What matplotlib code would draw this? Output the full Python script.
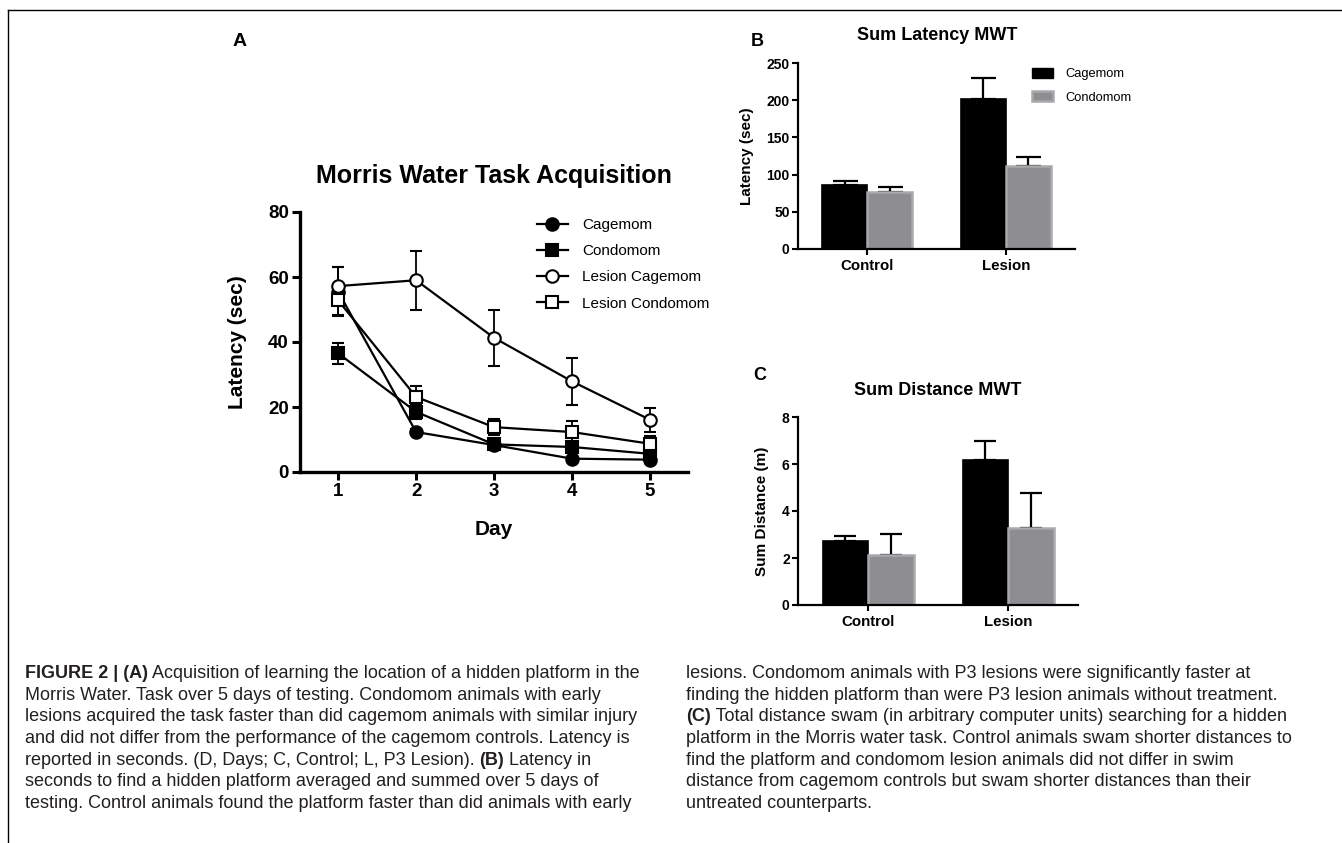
import matplotlib
matplotlib.use("Agg")
import matplotlib.pyplot as plt
from matplotlib.lines import Line2D
from matplotlib.patches import Patch

# ---------------- data ----------------
days = [1, 2, 3, 4, 5]
cagemom = [55.5, 12.3, 8.3, 4.1, 3.8]
cagemom_err = [7.5, 0.8, 0.8, 0.6, 0.6]
condomom = [36.5, 18.5, 8.5, 7.7, 5.6]
condomom_err = [3.3, 2.1, 1.2, 1.0, 0.8]
lesion_cagemom = [57.2, 59.0, 41.3, 27.9, 16.1]
lesion_cagemom_err = [5.8, 9.0, 8.6, 7.2, 3.7]
lesion_condomom = [52.8, 23.1, 13.8, 12.3, 8.7]
lesion_condomom_err = [4.4, 3.5, 2.4, 3.3, 2.4]

groups = ["Control", "Lesion"]
lat_cagemom = [85.6, 202.0]
lat_cagemom_err = [6.2, 27.8]
lat_condomom = [77.0, 111.0]
lat_condomom_err = [6.8, 12.7]

dist_cagemom = [2.74, 6.15]
dist_cagemom_err = [0.20, 0.84]
dist_condomom = [2.13, 3.27]
dist_condomom_err = [0.90, 1.49]

caption_left = [
    [("FIGURE 2 | (A)", True), (" Acquisition of learning the location of a hidden platform in the", False)],
    [("Morris Water. Task over 5 days of testing. Condomom animals with early", False)],
    [("lesions acquired the task faster than did cagemom animals with similar injury", False)],
    [("and did not differ from the performance of the cagemom controls. Latency is", False)],
    [("reported in seconds. (D, Days; C, Control; L, P3 Lesion). ", False), ("(B)", True), (" Latency in", False)],
    [("seconds to find a hidden platform averaged and summed over 5 days of", False)],
    [("testing. Control animals found the platform faster than did animals with early", False)],
]
caption_right = [
    [("lesions. Condomom animals with P3 lesions were significantly faster at", False)],
    [("finding the hidden platform than were P3 lesion animals without treatment.", False)],
    [("(C)", True), (" Total distance swam (in arbitrary computer units) searching for a hidden", False)],
    [("platform in the Morris water task. Control animals swam shorter distances to", False)],
    [("find the platform and condomom lesion animals did not differ in swim", False)],
    [("distance from cagemom controls but swam shorter distances than their", False)],
    [("untreated counterparts.", False)],
]

# ---------------- figure ----------------
W, H = 1342, 843
plt.rcParams["font.family"] = ["Liberation Sans", "DejaVu Sans"]
fig = plt.figure(figsize=(W / 100, H / 100), dpi=100)


def fx(px):
    return px / W


def fy(py):
    return 1 - py / H


def axes_px(l, t, r, b):
    return fig.add_axes([fx(l), fy(b), (r - l) / W, (b - t) / H])


# frame lines
fig.add_artist(Line2D([fx(8), 1.0], [fy(10), fy(10)], color="black", lw=1.0))
fig.add_artist(Line2D([fx(8), fx(8)], [fy(10), 0.0], color="black", lw=1.0))

# ---------------- panel A ----------------
axA = axes_px(300, 212, 688, 472)
lw = 1.6
common = dict(color="black", lw=lw, capsize=4.5, elinewidth=1.3, capthick=1.3, markersize=9,
              markeredgewidth=1.5)
axA.errorbar(days, cagemom, yerr=cagemom_err, marker="o", mfc="black", mec="black", zorder=3, **common)
axA.errorbar(days, condomom, yerr=condomom_err, marker="s", mfc="black", mec="black", zorder=3, **common)
axA.errorbar(days, lesion_cagemom, yerr=lesion_cagemom_err, marker="o", mfc="white", mec="black", zorder=4, **common)
axA.errorbar(days, lesion_condomom, yerr=lesion_condomom_err, marker="s", mfc="white", mec="black", zorder=4, **common)
axA.set_xlim(0.51, 5.49)
axA.set_ylim(0, 80)
axA.set_yticks([0, 20, 40, 60, 80])
axA.set_xticks(days)
for s in ["top", "right"]:
    axA.spines[s].set_visible(False)
for s in ["left", "bottom"]:
    axA.spines[s].set_linewidth(2.4)
axA.tick_params(width=2.2, length=6, pad=2, labelsize=13.5)
for lab in axA.get_xticklabels() + axA.get_yticklabels():
    lab.set_fontweight("bold")
axA.set_ylabel("Latency (sec)", fontsize=15, fontweight="bold")
axA.yaxis.set_label_coords(-0.16, 0.5)
axA.yaxis.label.set_va("center")
axA.set_xlabel("Day", fontsize=15, fontweight="bold")
axA.xaxis.set_label_coords(0.5, -0.223)
axA.xaxis.label.set_va("center")

handles = [
    Line2D([], [], color="black", lw=lw, marker="o", mfc="black", mec="black", ms=9, mew=1.5),
    Line2D([], [], color="black", lw=lw, marker="s", mfc="black", mec="black", ms=9, mew=1.5),
    Line2D([], [], color="black", lw=lw, marker="o", mfc="white", mec="black", ms=9, mew=1.5),
    Line2D([], [], color="black", lw=lw, marker="s", mfc="white", mec="black", ms=9, mew=1.5),
]
axA.legend(handles, ["Cagemom", "Condomom", "Lesion Cagemom", "Lesion Condomom"],
           loc="upper left", bbox_to_anchor=(fx(537), fy(218)), bbox_transform=fig.transFigure,
           frameon=False, fontsize=11, handlelength=2.0, handletextpad=0.95, labelspacing=0.8,
           borderpad=0, borderaxespad=0)

fig.text(fx(494), fy(176), "Morris Water Task Acquisition", ha="center", va="center",
         fontsize=18, fontweight="bold")
fig.text(fx(240), fy(42), "A", ha="center", va="center", fontsize=14, fontweight="bold")

# ---------------- bar panels ----------------
GRAY = "#8e8d92"
GRAY_EDGE = "#a9a9ab"
bw = 0.325
xpos = list(range(len(groups)))


def bar_panel(ax, v1, e1, v2, e2, ymax, yticks, ylabel, ylab_x, capsize):
    x1 = [x - bw / 2 for x in xpos]
    x2 = [x + bw / 2 for x in xpos]
    ax.bar(x1, v1, width=bw, color="black", edgecolor="black", lw=1.2, zorder=2)
    ax.bar(x2, v2, width=bw, color=GRAY, edgecolor=GRAY_EDGE, lw=1.8, zorder=2)
    ax.errorbar(x1, v1, yerr=[[0] * len(e1), e1], fmt="none", ecolor="black", elinewidth=1.6,
                capsize=capsize, capthick=1.6, zorder=1)
    ax.errorbar(x2, v2, yerr=[[0] * len(e2), e2], fmt="none", ecolor="black", elinewidth=1.6,
                capsize=capsize, capthick=1.6, zorder=1)
    ax.set_xlim(-0.5, 1.5)
    ax.set_ylim(0, ymax)
    ax.set_yticks(yticks)
    ax.set_xticks(xpos)
    ax.set_xticklabels(groups)
    for s in ["top", "right"]:
        ax.spines[s].set_visible(False)
    for s in ["left", "bottom"]:
        ax.spines[s].set_linewidth(1.6)
    ax.tick_params(axis="y", width=1.5, length=4.5, pad=1.5, labelsize=10)
    ax.tick_params(axis="x", width=1.5, length=4, pad=3, labelsize=10.8)
    for lab in ax.get_xticklabels() + ax.get_yticklabels():
        lab.set_fontweight("bold")
    ax.set_ylabel(ylabel, fontsize=11, fontweight="bold")
    ax.yaxis.set_label_coords(ylab_x, 0.5)
    ax.yaxis.label.set_va("center")


axB = axes_px(798, 63, 1075, 249)
bar_panel(axB, lat_cagemom, lat_cagemom_err, lat_condomom, lat_condomom_err,
          250, [0, 50, 100, 150, 200, 250], "Latency (sec)", -0.184, 9)
axB.legend([Patch(facecolor="black", edgecolor="black"), Patch(facecolor=GRAY, edgecolor=GRAY_EDGE, lw=1.8)],
           ["Cagemom", "Condomom"], loc="upper left", bbox_to_anchor=(fx(1032), fy(68)),
           bbox_transform=fig.transFigure, frameon=False, fontsize=9.3, handlelength=1.6,
           handleheight=0.8, handletextpad=1.0, labelspacing=0.85, borderpad=0, borderaxespad=0)
fig.text(fx(937), fy(36), "Sum Latency MWT", ha="center", va="center", fontsize=13, fontweight="bold")
fig.text(fx(757), fy(42), "B", ha="center", va="center", fontsize=13, fontweight="bold")

axC = axes_px(798, 417, 1078, 605)
bar_panel(axC, dist_cagemom, dist_cagemom_err, dist_condomom, dist_condomom_err,
          8, [0, 2, 4, 6, 8], "Sum Distance (m)", -0.129, 8)
fig.text(fx(938), fy(391), "Sum Distance MWT", ha="center", va="center", fontsize=13, fontweight="bold")
fig.text(fx(760), fy(376), "C", ha="center", va="center", fontsize=13, fontweight="bold")

# ---------------- caption ----------------
CAP_FONT = ["Liberation Sans Narrow", "Liberation Sans", "DejaVu Sans"]
CAP_SIZE = 13.0
line_y = [678, 700, 721, 743, 765, 786, 808]
fig.canvas.draw()
renderer = fig.canvas.get_renderer()


def draw_line(x0, y0, segs):
    x = x0
    for txt, bold in segs:
        t = fig.text(fx(x), fy(y0), txt, ha="left", va="baseline", fontsize=CAP_SIZE,
                     family=CAP_FONT, fontweight="bold" if bold else "normal", color="#231f20")
        bb = t.get_window_extent(renderer=renderer)
        x += bb.width


for i, segs in enumerate(caption_left):
    draw_line(25, line_y[i], segs)
for i, segs in enumerate(caption_right):
    draw_line(686, line_y[i], segs)

fig.savefig("out.png", dpi=100)
